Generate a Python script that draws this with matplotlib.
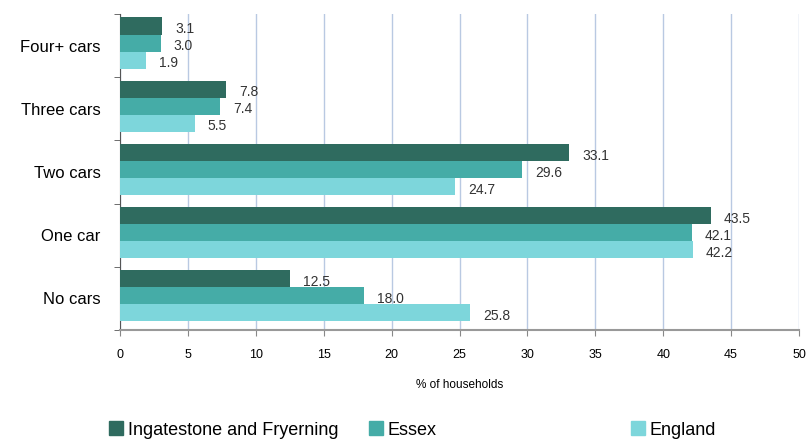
import numpy as np
import matplotlib.pyplot as plt
from matplotlib.patches import Patch

plt.rcParams["font.family"] = ["Liberation Sans", "DejaVu Sans"]

categories = ["Four+ cars", "Three cars", "Two cars", "One car", "No cars"]
series_names = ["Ingatestone and Fryerning", "Essex", "England"]
ingatestone = [3.1, 7.8, 33.1, 43.5, 12.5]
essex = [3.0, 7.4, 29.6, 42.1, 18.0]
england = [1.9, 5.5, 24.7, 42.2, 25.8]
colors = ["#2f6b5f", "#45aca7", "#7dd6db"]
x_ticks = [0, 5, 10, 15, 20, 25, 30, 35, 40, 45, 50]

fig = plt.figure(figsize=(8.08, 4.43), dpi=100)
ax = fig.add_axes([120 / 808, 1 - 330 / 443, 679 / 808, 316 / 443])

n = len(categories)
y = np.arange(n)  # 0 at top after inversion
h = 0.27
for i, (vals, col) in enumerate(zip([ingatestone, essex, england], colors)):
    pos = y + (i - 1) * h - 0.04
    ax.barh(pos, vals, height=h, color=col, zorder=3)
    for p, v in zip(pos, vals):
        ax.text(v + 0.95, p + 0.05, f"{v:.1f}", va="center", ha="left",
                fontsize=10, color="#333333", zorder=4)

ax.set_ylim(n - 0.5, -0.5)
ax.set_xlim(0, 50)
ax.set_xticks(x_ticks)
ax.set_xticklabels([str(t) for t in x_ticks], fontsize=9)
ax.set_yticks(y)
ax.set_yticklabels(categories, fontsize=12)
ax.set_yticks(np.arange(n + 1) - 0.5, minor=True)
ax.tick_params(axis="y", which="major", length=0, pad=14)
ax.tick_params(axis="y", which="minor", length=4, color="#555555")
ax.tick_params(axis="x", length=4, color="#888888", pad=10)

ax.grid(axis="x", color="#b9c9e2", linewidth=1, zorder=0)
ax.set_axisbelow(True)
for s in ["top", "right"]:
    ax.spines[s].set_visible(False)
ax.spines["left"].set_color("#555555")
ax.spines["bottom"].set_color("#999999")
ax.spines["bottom"].set_linewidth(1.5)

ax.set_xlabel("% of households", fontsize=8.5, labelpad=13)

leg_x = [109, 369, 631]
for name, col, lx in zip(series_names, colors, leg_x):
    fig.legend(handles=[Patch(color=col)], labels=[name], loc="center left",
               bbox_to_anchor=(lx / 808, 1 - 430 / 443), frameon=False,
               fontsize=13, handlelength=0.8, handleheight=0.8,
               handletextpad=0.25, borderpad=0, borderaxespad=0)

fig.savefig("out.png", dpi=100)
